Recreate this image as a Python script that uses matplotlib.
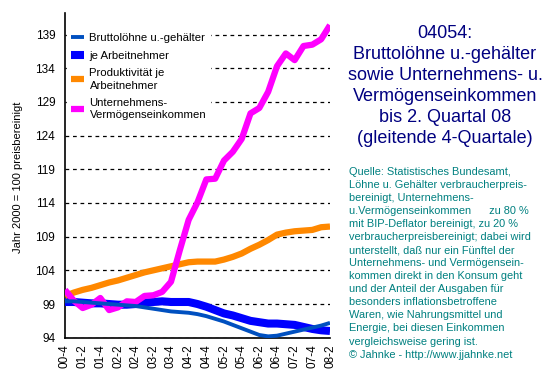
import matplotlib
matplotlib.use("Agg")
import matplotlib.pyplot as plt
import numpy as np

quarters = ["00-4", "01-1", "01-2", "01-3", "01-4", "02-1", "02-2", "02-3", "02-4",
            "03-1", "03-2", "03-3", "03-4", "04-1", "04-2", "04-3", "04-4",
            "05-1", "05-2", "05-3", "05-4", "06-1", "06-2", "06-3", "06-4",
            "07-1", "07-2", "07-3", "07-4", "08-1", "08-2"]

brutto_loehne = [99.4, 99.4, 99.3, 99.2, 99.1, 99.0, 98.9, 98.8, 98.7, 98.5, 98.3,
                 98.1, 97.9, 97.8, 97.7, 97.5, 97.2, 96.8, 96.4, 95.9, 95.4, 94.9,
                 94.4, 94.2, 94.3, 94.6, 94.9, 95.2, 95.5, 95.8, 96.2]
je_arbeitnehmer = [99.3, 99.3, 99.2, 99.1, 99.1, 99.0, 98.9, 98.9, 99.0, 99.2, 99.3,
                   99.4, 99.3, 99.3, 99.3, 99.0, 98.6, 98.1, 97.6, 97.3, 96.9, 96.5,
                   96.3, 96.1, 96.1, 96.0, 95.9, 95.6, 95.3, 95.1, 95.0]
produktivitaet = [100.2, 100.7, 101.1, 101.4, 101.8, 102.2, 102.5, 102.9, 103.3, 103.7,
                  104.0, 104.3, 104.6, 104.9, 105.2, 105.3, 105.3, 105.3, 105.6, 106.0,
                  106.5, 107.2, 107.8, 108.5, 109.3, 109.6, 109.8, 109.9, 110.0, 110.4, 110.5]
unternehmen = [101.1, 99.5, 98.4, 98.9, 99.9, 98.1, 98.5, 99.4, 99.3, 100.2, 100.3,
               100.8, 102.3, 107.0, 111.5, 114.1, 117.5, 117.6, 120.3, 121.6, 123.5,
               127.3, 128.1, 130.5, 134.3, 136.2, 135.2, 137.3, 137.5, 138.3, 140.4]

y_ticks = [94, 99, 104, 109, 114, 119, 124, 129, 134, 139]

labels = ["Bruttolöhne u.-gehälter", "je Arbeitnehmer",
          "Produktivität je\nArbeitnehmer", "Unternehmens-\nVermögenseinkommen"]

title = ("04054:\nBruttolöhne u.-gehälter\nsowie Unternehmens- u.\n"
         "Vermögenseinkommen\nbis 2. Quartal 08\n(gleitende 4-Quartale)")
source = ("Quelle: Statistisches Bundesamt,\n"
          "Löhne u. Gehälter verbraucherpreis-\n"
          "bereinigt, Unternehmens-\n"
          "u.Vermögenseinkommen      zu 80 %\n"
          "mit BIP-Deflator bereinigt, zu 20 %\n"
          "verbraucherpreisbereinigt; dabei wird\n"
          "unterstellt, daß nur ein Fünftel der\n"
          "Unternehmens- und Vermögensein-\n"
          "kommen direkt in den Konsum geht\n"
          "und der Anteil der Ausgaben für\n"
          "besonders inflationsbetroffene\n"
          "Waren, wie Nahrungsmittel und\n"
          "Energie, bei diesen Einkommen\n"
          "vergleichsweise gering ist.\n"
          "© Jahnke - http://www.jjahnke.net")

plt.rcParams['font.family'] = ['Liberation Sans', 'DejaVu Sans']

W, H = 553, 376
fig = plt.figure(figsize=(W / 100, H / 100), dpi=100)
ax = fig.add_axes([65 / W, 1 - 337.7 / H, (330 - 65) / W, (337.7 - 13) / H])

x = np.arange(len(quarters))
h1, = ax.plot(x, brutto_loehne, color="#0050C0", lw=2.8, zorder=6, solid_capstyle='butt')
h2, = ax.plot(x, je_arbeitnehmer, color="#0000FF", lw=5.8, zorder=3, solid_capstyle='butt')
h3, = ax.plot(x, produktivitaet, color="#FF8800", lw=4.5, zorder=4, solid_capstyle='butt')
h4, = ax.plot(x, unternehmen, color="#FF00FF", lw=4.5, zorder=5, solid_capstyle='butt')

ax.set_xlim(0, len(quarters) - 1)
ax.set_ylim(94, 142.2)
ax.set_yticks(y_ticks)
ax.set_yticklabels([str(t) for t in y_ticks], fontsize=8.5)
ax.set_xticks(x[::2])
ax.set_xticklabels(quarters[::2], rotation=90, fontsize=8.5)
ax.tick_params(axis='both', length=0)
ax.tick_params(axis='y', pad=7)
ax.tick_params(axis='x', pad=5)
ax.yaxis.grid(True, color="black", linestyle=(0, (3, 3)), linewidth=0.9)
ax.set_axisbelow(True)
for s in ["top", "right"]:
    ax.spines[s].set_visible(False)
ax.spines["left"].set_linewidth(1.2)
ax.spines["bottom"].set_linewidth(1.2)

leg = ax.legend([h1, h2, h3, h4], labels, loc="upper left", bbox_to_anchor=(0.0, 0.955),
                fontsize=8.2, frameon=True, handlelength=1.2, handletextpad=0.45,
                labelspacing=0.65, borderaxespad=0.2, borderpad=0.3)
for t in leg.get_texts():
    t.set_linespacing(1.3)
leg.get_frame().set_edgecolor("white")
leg.get_frame().set_facecolor("white")
leg.get_frame().set_alpha(1)
leg.set_zorder(10)

fig.text(18 / W, 1 - 177 / H, "Jahr 2000 = 100 preisbereinigt", rotation=90,
         ha="center", va="center", fontsize=8)

fig.text(445 / W, 1 - 25.5 / H, title, ha="center", va="top", fontsize=13,
         color="#000080", linespacing=1.3)
fig.text(349 / W, 1 - 167 / H, source, ha="left", va="top", fontsize=7.9,
         color="#008080", linespacing=1.38)

fig.savefig("out.png", dpi=100)
